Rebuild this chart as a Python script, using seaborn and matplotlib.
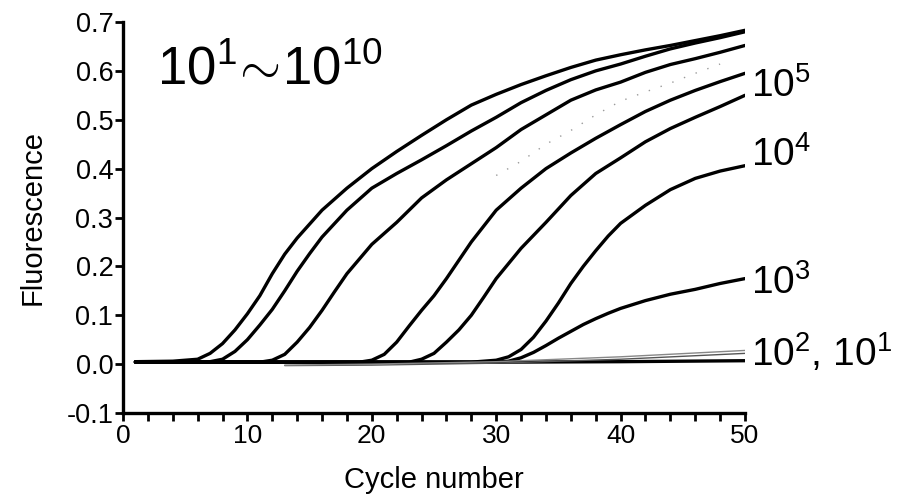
import matplotlib
matplotlib.use("Agg")
import matplotlib.pyplot as plt
import seaborn as sns
import numpy as np
import pandas as pd
from matplotlib.ticker import MultipleLocator

# ---- data ----
tail = [16, 18, 20, 22, 24, 26, 28, 30, 32, 34, 36, 38, 40, 42, 44, 46, 48, 50]

cyc_1e10 = [1, 4, 6, 7, 8, 9, 10, 11, 12, 13, 14] + tail
c_1e10 = [0.005, 0.006, 0.010, 0.022, 0.042, 0.070, 0.103, 0.140, 0.185, 0.225, 0.258,
          0.315, 0.360, 0.400, 0.435, 0.468, 0.500, 0.530, 0.552, 0.572, 0.590, 0.607,
          0.622, 0.633, 0.643, 0.652, 0.662, 0.672, 0.683]

cyc_1e9 = [1, 4, 7, 8, 9, 10, 11, 12, 13, 14, 15] + tail
c_1e9 = [0.005, 0.005, 0.005, 0.010, 0.026, 0.050, 0.080, 0.112, 0.150, 0.190, 0.226,
         0.260, 0.315, 0.360, 0.390, 0.418, 0.447, 0.477, 0.505, 0.535, 0.560, 0.582,
         0.600, 0.614, 0.630, 0.645, 0.657, 0.668, 0.680]

cyc_1e8 = [1, 4, 8, 11, 12, 13, 14, 15, 16, 17, 18, 20, 22, 24, 26, 28, 30, 32, 34, 36,
           38, 40, 42, 44, 46, 48, 50]
c_1e8 = [0.004, 0.004, 0.004, 0.004, 0.008, 0.020, 0.045, 0.075, 0.110, 0.148, 0.185,
         0.245, 0.290, 0.340, 0.377, 0.410, 0.443, 0.480, 0.510, 0.540, 0.561, 0.577,
         0.597, 0.613, 0.625, 0.638, 0.652]

cyc_1e6 = [1, 6, 12, 19, 20, 21, 22, 23, 24, 25, 26, 28, 30, 32, 34, 36, 38, 40, 42, 44,
           46, 48, 50]
c_1e6 = [0.004, 0.004, 0.004, 0.004, 0.008, 0.020, 0.045, 0.078, 0.110, 0.140, 0.175,
         0.250, 0.315, 0.360, 0.400, 0.432, 0.462, 0.490, 0.517, 0.540, 0.560, 0.578, 0.595]

cyc_1e5 = [1, 6, 12, 18, 23, 24, 25, 26, 27, 28, 29, 30, 32, 34, 36, 38, 40, 42, 44, 46,
           48, 50]
c_1e5 = [0.004, 0.004, 0.004, 0.004, 0.004, 0.010, 0.022, 0.045, 0.070, 0.100, 0.137,
         0.175, 0.237, 0.290, 0.345, 0.390, 0.422, 0.455, 0.482, 0.505, 0.527, 0.550]

cyc_1e4 = [1, 6, 12, 18, 24, 28, 30, 31, 32, 33, 34, 35, 36, 37, 38, 39, 40, 42, 44, 46,
           48, 50]
c_1e4 = [0.004, 0.004, 0.004, 0.004, 0.004, 0.004, 0.008, 0.015, 0.030, 0.055, 0.088,
         0.125, 0.165, 0.200, 0.232, 0.262, 0.288, 0.325, 0.357, 0.380, 0.395, 0.406]

cyc_1e3 = [1, 6, 12, 18, 24, 28, 30, 31, 32, 33, 34, 35, 36, 37, 38, 39, 40, 42, 44, 46,
           48, 50]
c_1e3 = [0.004, 0.004, 0.004, 0.004, 0.004, 0.004, 0.004, 0.006, 0.013, 0.024, 0.038,
         0.053, 0.067, 0.081, 0.093, 0.104, 0.114, 0.130, 0.143, 0.153, 0.165, 0.175]

# faint dotted curve (visible part only)
cyc_faint = [30, 32, 34, 36, 38, 40, 42, 44, 46, 48]
c_1e7 = [0.386, 0.415, 0.450, 0.478, 0.510, 0.538, 0.557, 0.575, 0.595, 0.614]

# low-copy curves near the baseline
cyc_low = [1, 6, 12, 20, 30, 40, 50]
c_low_a = [0.005, 0.005, 0.004, 0.004, 0.004, 0.005, 0.007]
cyc_low_b = [13, 20, 30, 40, 50]
c_low_b = [-0.003, -0.002, 0.002, 0.010, 0.022]
c_low_c = [-0.002, 0.000, 0.005, 0.015, 0.028]

curve_labels = ["10$^{5}$", "10$^{4}$", "10$^{3}$", "10$^{2}$, 10$^{1}$"]
label_y = [0.569, 0.427, 0.167, 0.024]
title_text = r"$10^{1}\!{\sim}\!10^{10}$"

# ---- style ----
sns.set_style("ticks")
plt.rcParams["font.family"] = ["Liberation Sans", "DejaVu Sans"]
plt.rcParams["mathtext.fontset"] = "custom"
plt.rcParams["mathtext.rm"] = "Liberation Sans"
plt.rcParams["mathtext.it"] = "Liberation Sans:italic"
plt.rcParams["mathtext.bf"] = "Liberation Sans:bold"
for k in ["text.color", "axes.labelcolor", "xtick.color", "ytick.color", "axes.edgecolor"]:
    plt.rcParams[k] = "black"

fig = plt.figure(figsize=(9.02, 5.04), dpi=100)
ax = fig.add_axes([123 / 902, 1 - 413 / 504, (745 - 123) / 902, (413 - 22) / 504])

lw = 2.4
main = [(cyc_1e10, c_1e10), (cyc_1e9, c_1e9), (cyc_1e8, c_1e8), (cyc_1e6, c_1e6),
        (cyc_1e5, c_1e5), (cyc_1e4, c_1e4), (cyc_1e3, c_1e3)]
for cx, vals in main:
    sns.lineplot(x=cx, y=vals, ax=ax, color="black", lw=lw, estimator=None)

sns.lineplot(x=cyc_faint, y=c_1e7, ax=ax, color="#9a9a9a", lw=1.0, linestyle=(0, (1, 8)), estimator=None)
sns.lineplot(x=cyc_low, y=c_low_a, ax=ax, color="black", lw=lw, estimator=None)
sns.lineplot(x=cyc_low_b, y=c_low_b, ax=ax, color="#555555", lw=1.0, estimator=None)
sns.lineplot(x=cyc_low_b, y=c_low_c, ax=ax, color="#888888", lw=1.0, estimator=None)

ax.set_xlim(0, 50)
ax.set_ylim(-0.1, 0.7)
ax.xaxis.set_major_locator(MultipleLocator(10))
ax.xaxis.set_minor_locator(MultipleLocator(2))
ax.yaxis.set_major_locator(MultipleLocator(0.1))
ax.yaxis.set_major_formatter(matplotlib.ticker.FormatStrFormatter("%.1f"))

for s in ["top", "right"]:
    ax.spines[s].set_visible(False)
for s in ["left", "bottom"]:
    ax.spines[s].set_linewidth(2.4)
    ax.spines[s].set_color("black")

ax.tick_params(axis="both", which="both", direction="out", length=6, width=2, color="black")
ax.tick_params(axis="y", labelsize=19.5, pad=1)
ax.tick_params(axis="x", labelsize=19, pad=2)
for t in ax.get_xticklabels():
    t.set_family(["Liberation Sans Narrow", "Liberation Sans"])

ax.set_xlabel("Cycle number", fontsize=21, labelpad=13)
ax.set_ylabel("Fluorescence", fontsize=21, labelpad=14)

ax.text(2.7, 0.573, title_text, fontsize=38, va="baseline", ha="left")

for lab, yy in zip(curve_labels, label_y):
    ax.text(50.5, yy, lab, fontsize=28, va="center", ha="left", clip_on=False)

fig.savefig("out.png", dpi=100)
